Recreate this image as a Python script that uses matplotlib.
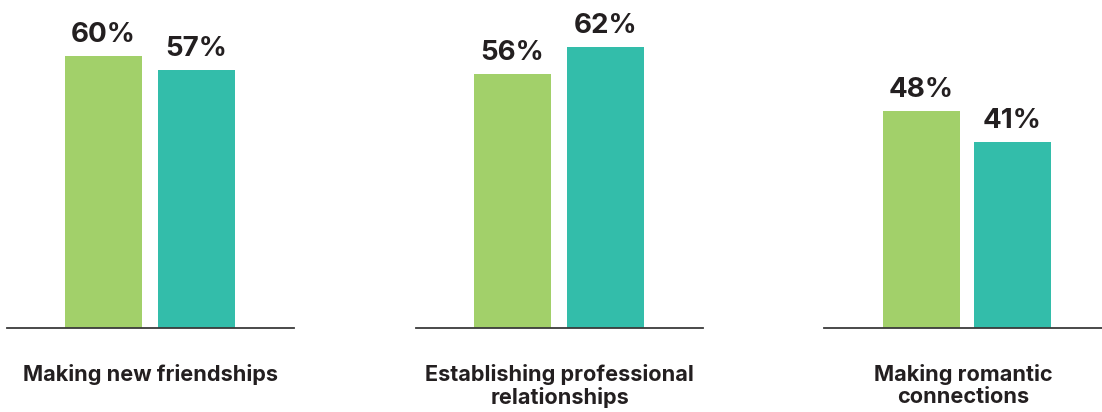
import matplotlib
matplotlib.use("Agg")
import matplotlib.pyplot as plt

# survey results per activity: two groups side by side
categories = ["Making new friendships",
              "Establishing professional\nrelationships",
              "Making romantic\nconnections"]
group_a = [60, 56, 48]
group_b = [57, 62, 41]

colors = ["#A2D06A", "#33BDAA"]
text_color = "#231F20"
plt.rcParams["font.family"] = ["Inter", "DejaVu Sans"]

W, H = 1102, 412
fig = plt.figure(figsize=(W / 100, H / 100), dpi=100)

# panel geometry in pixels: left edge of baseline, baseline width
panel_left = [7, 416, 824]
panel_width = [287, 287, 278]
base_y = 84          # baseline height from the bottom of the figure
px_per_pct = 4.53

for i, cat in enumerate(categories):
    ax = fig.add_axes([panel_left[i] / W, base_y / H,
                       panel_width[i] / W, (H - base_y) / H])
    spacing = 93 if i < 2 else 91
    x0 = 96.5 if i < 2 else 97.5
    ax.set_xlim(-x0 / spacing, (panel_width[i] - x0) / spacing)
    ax.set_ylim(0, (H - base_y) / px_per_pct)
    vals = [group_a[i], group_b[i]]
    bars = ax.bar([0, 1], vals, width=77 / spacing, color=colors)
    for b, v in zip(bars, vals):
        ax.annotate(f"{v}%", (b.get_x() + b.get_width() / 2, v),
                    xytext=(0, 14), textcoords="offset pixels",
                    ha="center", va="baseline", fontsize=20,
                    fontweight="bold", color=text_color)
    ax.axhline(0, color="#3A3A3A", lw=1.3, clip_on=False)
    for s in ax.spines.values():
        s.set_visible(False)
    ax.set_xticks([])
    ax.set_yticks([])
    ax.patch.set_alpha(0)
    ax.text(0.5, -36 / (H - base_y), cat, transform=ax.transAxes,
            ha="center", va="top", fontsize=15.6, fontweight="bold",
            color=text_color, linespacing=1.1)

fig.savefig("out.png", dpi=100)
